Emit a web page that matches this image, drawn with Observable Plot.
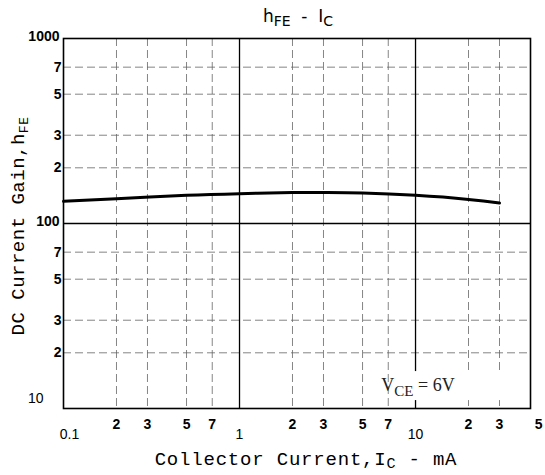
<!DOCTYPE html>
<html>
<head>
<meta charset="utf-8">
<script src="https://cdn.jsdelivr.net/npm/d3@7"></script>
<script src="https://cdn.jsdelivr.net/npm/@observablehq/plot@0.6"></script>
<style>
  html, body { margin: 0; padding: 0; background: #fff; }
  #chart { width: 545px; height: 475px; }
</style>
</head>
<body>
<div id="chart"></div>
<script>
// ---- data ----
const icValues = [0.1, 0.2, 0.5, 1, 2, 3, 5, 10, 20, 30];
const hfeValues = [132, 136, 142, 145, 147, 147, 146, 142, 135, 129];

const xMajor = [1, 10];
const xFirstLabelValues = [0.1];
const xFirstLabels = ["0.1"];
const xMajorLabelValues = [1, 10];
const xMajorLabels = ["1", "10"];
const xMinor = [0.2, 0.3, 0.5, 0.7, 2, 3, 5, 7, 20, 30];
const xMinorLabelValues = [0.2, 0.3, 0.5, 0.7, 2, 3, 5, 7, 20, 30, 50];
const xMinorLabels = ["2", "3", "5", "7", "2", "3", "5", "7", "2", "3", "5"];

const yMajor = [100];
const yMajorLabelValues = [1000, 100];
const yMajorLabels = ["1000", "100"];
const yBottomLabelValues = [10];
const yBottomLabels = ["10"];
const yMinor = [20, 30, 50, 70, 200, 300, 500, 700];
const yMinorLabels = ["2", "3", "5", "7", "2", "3", "5", "7"];

const xDomain = [0.1, 45];
const yDomain = [10, 1000];
const annotation = [{x: 20, y: 12.5, label: "V", sub: "CE", rest: " = 6V"}];

const data = icValues.map((x, i) => ({ic: x, hfe: hfeValues[i]}));
const tickFont = "Liberation Sans, Arial, sans-serif";

const plot = Plot.plot({
  width: 545,
  height: 475,
  marginLeft: 63,
  marginRight: 15,
  marginTop: 38,
  marginBottom: 67,
  x: {type: "log", domain: xDomain, axis: null},
  y: {type: "log", domain: yDomain, axis: null},
  style: {background: "#fff"},
  marks: [
    Plot.ruleX(xMinor, {stroke: "#666", strokeWidth: 0.8, strokeDasharray: "8,4"}),
    Plot.ruleY(yMinor, {stroke: "#666", strokeWidth: 0.8, strokeDasharray: "8,4"}),
    Plot.ruleX(xMajor, {stroke: "#000", strokeWidth: 1.3}),
    Plot.ruleY(yMajor, {stroke: "#000", strokeWidth: 1.3}),
    Plot.frame({stroke: "#000", strokeWidth: 1.6}),
    Plot.line(data, {x: "ic", y: "hfe", curve: "natural", stroke: "#000", strokeWidth: 3}),
    // x tick labels
    Plot.text(xMinorLabelValues, {x: d => d, frameAnchor: "bottom", dy: 20, text: (d, i) => xMinorLabels[i],
      fontSize: 14, fontWeight: "bold", fontFamily: tickFont, fill: "#000"}),
    Plot.text(xMajorLabelValues, {x: d => d, frameAnchor: "bottom", dy: 30, text: (d, i) => xMajorLabels[i],
      fontSize: 14, fontFamily: tickFont, fill: "#000"}),
    Plot.text(xFirstLabelValues, {x: d => d, frameAnchor: "bottom", dy: 30, dx: 6, text: (d, i) => xFirstLabels[i],
      fontSize: 14, fontFamily: tickFont, fill: "#000"}),
    // y tick labels
    Plot.text(yMinor, {y: d => d, frameAnchor: "left", dx: -2, textAnchor: "end", text: (d, i) => yMinorLabels[i],
      fontSize: 14, fontWeight: "bold", fontFamily: tickFont, fill: "#000"}),
    Plot.text(yMajorLabelValues, {y: d => d, frameAnchor: "left", dx: -4, dy: -2, textAnchor: "end", text: (d, i) => yMajorLabels[i],
      fontSize: 14, fontWeight: "bold", fontFamily: tickFont, fill: "#000", letterSpacing: "-1.5px"}),
    Plot.text(yBottomLabelValues, {y: d => d, frameAnchor: "left", dx: -20, dy: -10, textAnchor: "end", text: (d, i) => yBottomLabels[i],
      fontSize: 14, fontFamily: tickFont, fill: "#000", letterSpacing: "-1px"})
  ]
});

const svg = d3.select(plot);
const xs = plot.scale("x"), ys = plot.scale("y");

// annotation box
const ax = xs.apply(annotation[0].x), ay = ys.apply(annotation[0].y);
svg.append("rect").attr("x", ax - 58).attr("y", ay - 19).attr("width", 100).attr("height", 29).attr("fill", "#fff");
const at = svg.append("text").attr("x", ax - 50).attr("y", ay + 1)
  .attr("font-family", "Liberation Serif, serif").attr("font-size", 18).attr("fill", "#222");
at.append("tspan").text(annotation[0].label);
at.append("tspan").attr("dy", 5).attr("font-size", 15).text(annotation[0].sub);
at.append("tspan").attr("dy", -5).text(annotation[0].rest);

// title
const title = svg.append("text").attr("x", 298).attr("y", 22).attr("text-anchor", "middle")
  .attr("font-family", "DejaVu Sans, sans-serif").attr("font-size", 17).attr("fill", "#000");
title.append("tspan").text("h");
title.append("tspan").attr("dy", 4).attr("font-size", 14).text("FE");
title.append("tspan").attr("dy", -4).text("  -  I");
title.append("tspan").attr("dy", 4).attr("font-size", 14).text("C");

// x axis label
const xl = svg.append("text").attr("x", 306).attr("y", 465).attr("text-anchor", "middle")
  .attr("font-family", "Liberation Mono, Courier New, monospace").attr("font-size", 19)
  .attr("letter-spacing", "0.8px").attr("fill", "#000");
xl.append("tspan").text("Collector Current,I");
xl.append("tspan").attr("dy", 3).attr("font-size", 15).text("C");
xl.append("tspan").attr("dy", -3).text(" - mA");

// y axis label
const yl = svg.append("text").attr("transform", "translate(24,226) rotate(-90)").attr("text-anchor", "middle")
  .attr("font-family", "Liberation Mono, Courier New, monospace").attr("font-size", 19)
  .attr("letter-spacing", "0.5px").attr("fill", "#000");
yl.append("tspan").text("DC Current Gain,h");
yl.append("tspan").attr("dy", 4).attr("font-size", 13).text("FE");

document.getElementById("chart").appendChild(plot);
</script>
</body>
</html>
